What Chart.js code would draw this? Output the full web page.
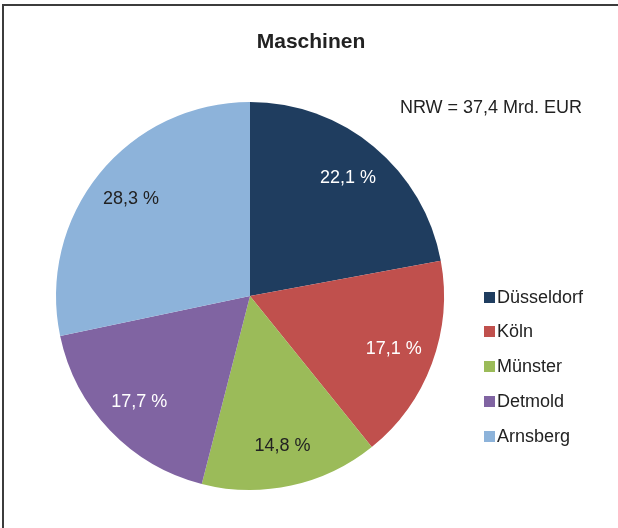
<!DOCTYPE html>
<html>
<head>
<meta charset="utf-8">
<script src="https://cdn.jsdelivr.net/npm/chart.js@4.4.1/dist/chart.umd.min.js"></script>
<style>
  html, body { margin: 0; padding: 0; background: #fff; }
  #frame {
    position: absolute; left: 2px; top: 4px; width: 700px; height: 600px;
    border-top: 2px solid #3c3c3c; border-left: 2px solid #3c3c3c;
  }
  #chart { position: absolute; left: 0; top: 0; }
</style>
</head>
<body>
<div id="frame"></div>
<canvas id="chart" width="618" height="528"></canvas>
<script>
  // Anteile der Regierungsbezirke (Prozent)
  const regions = ['Düsseldorf', 'Köln', 'Münster', 'Detmold', 'Arnsberg'];
  const shares = [22.1, 17.1, 14.8, 17.7, 28.3];
  const sliceColors = ['#1F3D5F', '#C0504D', '#9BBB59', '#8064A2', '#8DB3DA'];
  const labelColors = ['#ffffff', '#ffffff', '#222222', '#ffffff', '#222222'];
  const chartTitle = 'Maschinen';
  const totalNote = 'NRW = 37,4 Mrd. EUR';

  const FONT = '"Liberation Sans", Arial, sans-serif';

  function fmt(v) {
    return v.toFixed(1).replace('.', ',') + ' %';
  }

  // Beschriftungen, Titel und Legende
  const decorPlugin = {
    id: 'decor',
    afterDatasetsDraw(chart) {
      const ctx = chart.ctx;
      const meta = chart.getDatasetMeta(0);
      ctx.save();
      ctx.textAlign = 'center';
      ctx.textBaseline = 'middle';
      ctx.font = '18px ' + FONT;
      meta.data.forEach((arc, i) => {
        const p = arc.getProps(['x', 'y', 'startAngle', 'endAngle', 'outerRadius'], true);
        const mid = (p.startAngle + p.endAngle) / 2;
        const r = p.outerRadius * 0.79;
        ctx.fillStyle = labelColors[i];
        ctx.fillText(fmt(shares[i]), p.x + Math.cos(mid) * r, p.y + Math.sin(mid) * r);
      });

      // Titel
      ctx.fillStyle = '#222';
      ctx.font = 'bold 21px ' + FONT;
      ctx.fillText(chartTitle, 311, 42);

      // NRW-Summe
      ctx.font = '18px ' + FONT;
      ctx.fillText(totalNote, 491, 108);

      // Legende
      ctx.textAlign = 'left';
      const legendY = [297, 331, 366, 401, 436];
      regions.forEach((name, i) => {
        ctx.fillStyle = sliceColors[i];
        ctx.fillRect(484, legendY[i] - 5, 11, 11);
        ctx.fillStyle = '#222';
        ctx.fillText(name, 497, legendY[i] + 1);
      });
      ctx.restore();
    }
  };

  new Chart(document.getElementById('chart'), {
    type: 'pie',
    data: {
      labels: regions,
      datasets: [{
        data: shares,
        backgroundColor: sliceColors,
        borderWidth: 0
      }]
    },
    options: {
      responsive: false,
      animation: false,
      layout: { padding: { left: 56, right: 174, top: 102, bottom: 38 } },
      plugins: {
        legend: { display: false },
        title: { display: false },
        tooltip: { enabled: false }
      }
    },
    plugins: [decorPlugin]
  });
</script>
</body>
</html>
